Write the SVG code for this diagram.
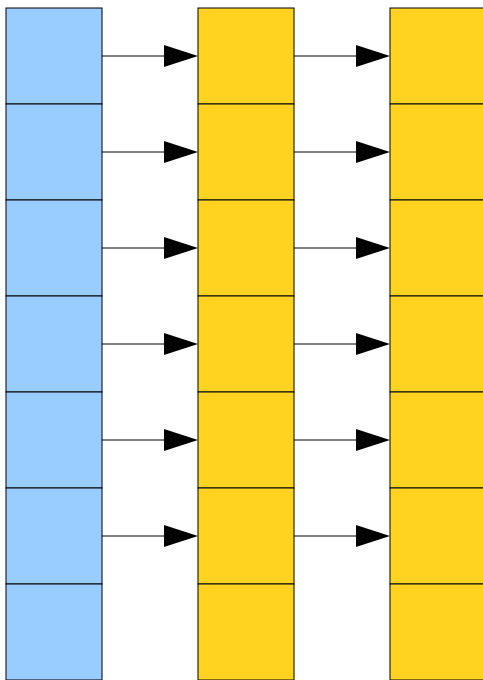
<svg xmlns="http://www.w3.org/2000/svg" width="483" height="680" viewBox="0 0 483 680">
<style>
.b{fill:#99ccff;stroke:#000;stroke-width:1}
.y{fill:#ffd320;stroke:#000;stroke-width:1}
.c line{stroke:#000;stroke-width:1}
.c polygon{fill:#000;stroke:none}
</style>
<defs>
<g id="blk"><rect x="0" y="0" width="96" height="96"/></g>
</defs>
<g id="col1">
<rect class="b" x="6" y="8" width="96" height="96"/>
<rect class="b" x="6" y="104" width="96" height="96"/>
<rect class="b" x="6" y="200" width="96" height="96"/>
<rect class="b" x="6" y="296" width="96" height="96"/>
<rect class="b" x="6" y="392" width="96" height="96"/>
<rect class="b" x="6" y="488" width="96" height="96"/>
<rect class="b" x="6" y="584" width="96" height="96"/>
</g>
<g id="col2">
<rect class="y" x="198" y="8" width="96" height="96"/>
<rect class="y" x="198" y="104" width="96" height="96"/>
<rect class="y" x="198" y="200" width="96" height="96"/>
<rect class="y" x="198" y="296" width="96" height="96"/>
<rect class="y" x="198" y="392" width="96" height="96"/>
<rect class="y" x="198" y="488" width="96" height="96"/>
<rect class="y" x="198" y="584" width="96" height="96"/>
</g>
<g id="col3">
<rect class="y" x="390" y="8" width="96" height="96"/>
<rect class="y" x="390" y="104" width="96" height="96"/>
<rect class="y" x="390" y="200" width="96" height="96"/>
<rect class="y" x="390" y="296" width="96" height="96"/>
<rect class="y" x="390" y="392" width="96" height="96"/>
<rect class="y" x="390" y="488" width="96" height="96"/>
<rect class="y" x="390" y="584" width="96" height="96"/>
</g>
<g id="connectors" class="c">
<line x1="102" y1="56" x2="165" y2="56"/><polygon points="164,45 198,56 164,67"/>
<line x1="102" y1="152" x2="165" y2="152"/><polygon points="164,141 198,152 164,163"/>
<line x1="102" y1="248" x2="165" y2="248"/><polygon points="164,237 198,248 164,259"/>
<line x1="102" y1="344" x2="165" y2="344"/><polygon points="164,333 198,344 164,355"/>
<line x1="102" y1="440" x2="165" y2="440"/><polygon points="164,429 198,440 164,451"/>
<line x1="102" y1="536" x2="165" y2="536"/><polygon points="164,525 198,536 164,547"/>
<line x1="294" y1="56" x2="357" y2="56"/><polygon points="356,45 390,56 356,67"/>
<line x1="294" y1="152" x2="357" y2="152"/><polygon points="356,141 390,152 356,163"/>
<line x1="294" y1="248" x2="357" y2="248"/><polygon points="356,237 390,248 356,259"/>
<line x1="294" y1="344" x2="357" y2="344"/><polygon points="356,333 390,344 356,355"/>
<line x1="294" y1="440" x2="357" y2="440"/><polygon points="356,429 390,440 356,451"/>
<line x1="294" y1="536" x2="357" y2="536"/><polygon points="356,525 390,536 356,547"/>
</g>
</svg>
